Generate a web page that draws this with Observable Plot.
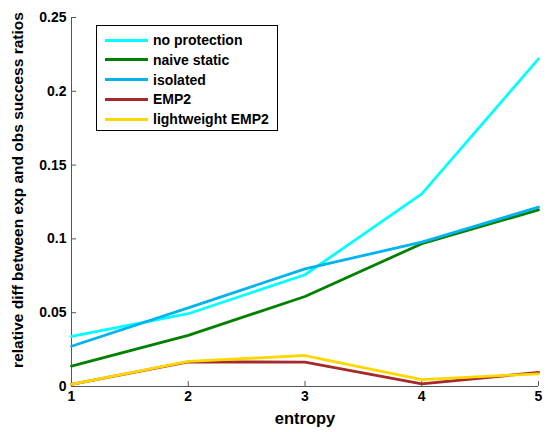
<!DOCTYPE html>
<html><head><meta charset="utf-8">
<script src="https://cdn.jsdelivr.net/npm/d3@7"></script>
<script src="https://cdn.jsdelivr.net/npm/@observablehq/plot@0.6"></script>
<style>
body{margin:0;background:#fff;font-family:"Liberation Sans",Arial,sans-serif;}
#wrap{position:relative;width:548px;height:432px;}
#legend{position:absolute;left:96px;top:25px;width:182px;height:106px;border:1.3px solid #000;background:#fff;box-sizing:border-box;font-weight:bold;font-size:14px;}
#legend .row{position:absolute;left:8px;height:20px;display:flex;align-items:center;}
#legend .sw{width:43px;height:3px;margin-right:5px;}
</style></head>
<body><div id="wrap"><div id="chart"></div><div id="legend"></div></div>
<script>
const entropy = [1, 2, 3, 4, 5];
const seriesNames = ["no protection", "naive static", "isolated", "EMP2", "lightweight EMP2"];
const colors = ["#00ffff", "#008000", "#00b4f0", "#a52a2a", "#ffd700"];
const noProtection = [0.0339, 0.0493, 0.0757, 0.1305, 0.222];
const naiveStatic = [0.0138, 0.0346, 0.061, 0.0967, 0.1197];
const isolated = [0.0273, 0.0533, 0.0797, 0.0978, 0.1215];
const emp2 = [0.0014, 0.0167, 0.0165, 0.0018, 0.0095];
const lightweightEmp2 = [0.0014, 0.017, 0.021, 0.0047, 0.0086];
const yTicks = [0, 0.05, 0.1, 0.15, 0.2, 0.25];
const yTickLabels = ["0", "0.05", "0.1", "0.15", "0.2", "0.25"];

const allSeries = [noProtection, naiveStatic, isolated, emp2, lightweightEmp2];
const data = [];
allSeries.forEach((vals, i) => vals.forEach((v, j) => data.push({x: entropy[j], y: v, s: seriesNames[i]})));

const chart = Plot.plot({
  width: 548, height: 432,
  marginLeft: 71, marginRight: 10, marginTop: 17, marginBottom: 46,
  style: {fontFamily: "Liberation Sans, Arial, sans-serif", fontWeight: "bold", fontSize: "14px", color: "#000"},
  x: {domain: [1, 5], ticks: entropy, tickFormat: d3.format("d"), label: null},
  y: {domain: [0, 0.25], ticks: yTicks, label: null},
  color: {domain: seriesNames, range: colors},
  marks: [
    Plot.axisX({ticks: entropy, tickSize: -5, tickPadding: 10, tickFormat: d3.format("d"), stroke: "#555", fontSize: 14, fontWeight: "bold"}),
    Plot.axisY({ticks: yTicks, tickSize: -5, tickPadding: 10, tickFormat: (d, i) => yTickLabels[i], stroke: "#555", fontSize: 14, fontWeight: "bold"}),
    Plot.ruleX([1], {stroke: "#555", strokeWidth: 1}),
    Plot.ruleY([0], {stroke: "#555", strokeWidth: 1}),
    Plot.line(data, {x: "x", y: "y", z: "s", stroke: "s", strokeWidth: 2.8}),
    Plot.text(["entropy"], {frameAnchor: "bottom", dy: 37, fontSize: 16.5, fontWeight: "bold"}),
    Plot.text(["relative diff between exp and obs success ratios"], {frameAnchor: "left", textAnchor: "middle", dx: -53, dy: -12, rotate: -90, fontSize: 15.5, fontWeight: "bold"})
  ]
});
document.getElementById("chart").appendChild(chart);

const leg = document.getElementById("legend");
seriesNames.forEach((n, i) => {
  const r = document.createElement("div");
  r.className = "row";
  r.style.top = (4 + i * 19.8) + "px";
  r.innerHTML = `<div class="sw" style="background:${colors[i]}"></div><span>${n}</span>`;
  leg.appendChild(r);
});
</script></body></html>
